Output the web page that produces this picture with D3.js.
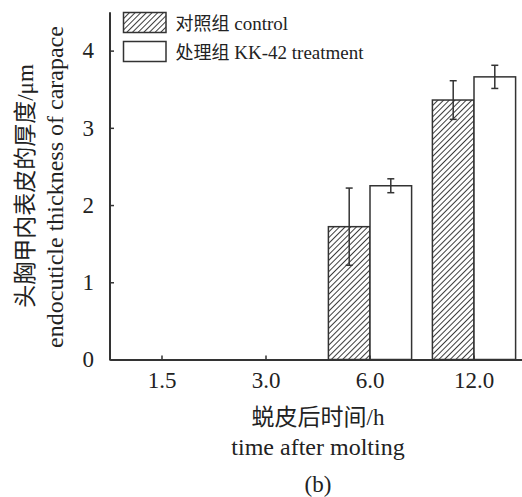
<!DOCTYPE html>
<html><head><meta charset="utf-8">
<script src="https://cdn.jsdelivr.net/npm/d3@7"></script>
<style>body{margin:0;background:#fff}svg{display:block}text{fill:#222}.lat{font-family:"Liberation Serif",serif}.cjk{font-family:"Noto Sans CJK SC",sans-serif}</style>
</head><body><svg id="c" width="522" height="497"></svg>
<script>
const categories = ["1.5", "3.0", "6.0", "12.0"];
const seriesNamesCN = ["对照组", "处理组"];
const seriesNamesEN = ["control", "KK-42 treatment"];
const controlValues = [0, 0, 1.72, 3.36];
const controlErrors = [0, 0, 0.5, 0.25];
const treatmentValues = [0, 0, 2.25, 3.66];
const treatmentErrors = [0, 0, 0.09, 0.15];
const yTicks = [0, 1, 2, 3, 4];

const svg = d3.select("#c");
const defs = svg.append("defs");
const pat = defs.append("pattern").attr("id","hatch").attr("patternUnits","userSpaceOnUse")
  .attr("width",4).attr("height",4).attr("patternTransform","rotate(45)");
pat.append("rect").attr("width",4).attr("height",4).attr("fill","#fff");
pat.append("line").attr("x1",0).attr("y1",0).attr("x2",0).attr("y2",4).attr("stroke","#1a1a1a").attr("stroke-width",1.7);

const x = d3.scaleBand().domain(categories).range([110, 526]).paddingInner(0).paddingOuter(0);
const y = d3.scaleLinear().domain([0, 4.5]).range([359.5, 12]);
const sub = d3.scaleBand().domain([0,1]).range([0, x.bandwidth()]).paddingInner(0).paddingOuter(0.25);

const series = [
  {vals: controlValues, errs: controlErrors, fill: "url(#hatch)"},
  {vals: treatmentValues, errs: treatmentErrors, fill: "#fff"}
];
series.forEach((s, si) => {
  const g = svg.append("g");
  categories.forEach((c, i) => {
    if (s.vals[i] <= 0) return;
    const bx = x(c) + sub(si);
    g.append("rect").attr("x", bx).attr("y", y(s.vals[i])).attr("width", sub.bandwidth())
      .attr("height", y(0) - y(s.vals[i])).attr("fill", s.fill).attr("stroke", "#333").attr("stroke-width", 1.5);
  });
});
series.forEach((s, si) => {
  categories.forEach((c, i) => {
    if (s.vals[i] <= 0) return;
    const cx = x(c) + sub(si) + sub.bandwidth()/2;
    const g = svg.append("g").attr("stroke","#333").attr("stroke-width",1.5);
    g.append("line").attr("x1",cx).attr("x2",cx).attr("y1",y(s.vals[i]+s.errs[i])).attr("y2",y(s.vals[i]-s.errs[i]));
    [s.vals[i]+s.errs[i], s.vals[i]-s.errs[i]].forEach(v=>{
      g.append("line").attr("x1",cx-3.5).attr("x2",cx+3.5).attr("y1",y(v)).attr("y2",y(v));
    });
  });
});

// axes
const yAxis = d3.axisLeft(y).tickValues(yTicks).tickFormat(d3.format("d")).tickSizeInner(-4).tickSizeOuter(0).tickPadding(16);
const yg = svg.append("g").attr("transform","translate(110,0)").call(yAxis);
yg.select(".domain").attr("stroke","#333").attr("stroke-width",2).attr("d","M0,12.3V360.5");
yg.selectAll(".tick line").attr("stroke","#333").attr("stroke-width",1.5);
yg.selectAll(".tick text").attr("font-size",23).attr("class","lat").attr("fill","#222");

const xAxis = d3.axisBottom(x).tickSizeInner(-4).tickSizeOuter(0).tickPadding(12);
const xg = svg.append("g").attr("transform","translate(0,359.5)").call(xAxis);
xg.select(".domain").attr("stroke","#333").attr("stroke-width",2);
xg.selectAll(".tick line").attr("stroke","#333").attr("stroke-width",1.5);
xg.selectAll(".tick text").attr("font-size",23).attr("class","lat").attr("fill","#222");
svg.selectAll("g[font-family]").attr("font-family",null);

// legend
const leg = svg.append("g");
seriesNamesCN.forEach((n, i) => {
  const ly = 12.5 + i*29;
  leg.append("rect").attr("x",123.5).attr("y",ly).attr("width",42.5).attr("height",20)
    .attr("fill", i===0 ? "url(#hatch)" : "#fff").attr("stroke","#333").attr("stroke-width",1.5);
  const t = leg.append("text").attr("x",175.5).attr("y",ly+17).attr("font-size",19);
  t.append("tspan").attr("class","cjk").attr("font-size",18).text(n);
  t.append("tspan").attr("class","lat").text(" " + seriesNamesEN[i]);
});

// axis titles
const t1 = svg.append("text").attr("x",318).attr("y",425).attr("text-anchor","middle").attr("font-size",23);
t1.append("tspan").attr("class","cjk").text("蜕皮后时间");
t1.append("tspan").attr("class","lat").text("/h");
svg.append("text").attr("class","lat").attr("x",318).attr("y",455).attr("text-anchor","middle").attr("font-size",24).text("time after molting");
svg.append("text").attr("class","lat").attr("x",318).attr("y",492).attr("text-anchor","middle").attr("font-size",23).text("(b)");
const t2 = svg.append("text").attr("transform","translate(33,186) rotate(-90)").attr("text-anchor","middle").attr("font-size",23);
t2.append("tspan").attr("class","cjk").text("头胸甲内表皮的厚度");
t2.append("tspan").attr("class","lat").text("/μm");
svg.append("text").attr("class","lat").attr("transform","translate(63,187) rotate(-90)").attr("text-anchor","middle").attr("font-size",24).text("endocuticle thickness of carapace");
</script></body></html>
